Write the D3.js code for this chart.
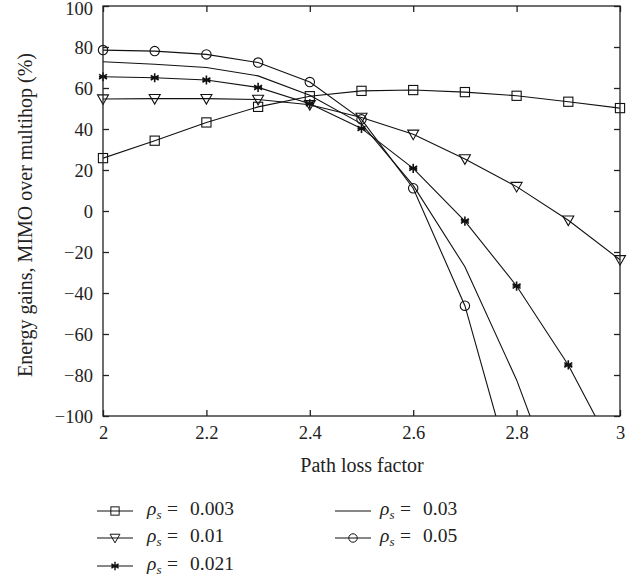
<!DOCTYPE html>
<html>
<head>
<meta charset="utf-8">
<script src="https://cdn.jsdelivr.net/npm/d3@7"></script>
<style>
  body { margin: 0; background: white; }
  svg { font-family: 'Liberation Serif', 'DejaVu Serif', serif; }
  .line { fill: none; stroke: #111; stroke-width: 1.1px; }
  .marker { fill: none; stroke: #111; stroke-width: 1.1px; }
  .axis path, .axis line { stroke: #222; stroke-width: 1.3px; }
</style>
</head>
<body>
<svg id="chart" width="644" height="579"></svg>
<script>
const margin = {top:6, right:24, bottom:163, left:103};

const xValues = [2.0, 2.1, 2.2, 2.3, 2.4, 2.5, 2.6, 2.7, 2.8, 2.9, 3.0];
const xTicks = [2, 2.2, 2.4, 2.6, 2.8, 3];
const yTicks = [-100, -80, -60, -40, -20, 0, 20, 40, 60, 80, 100];

const rhoLabels = ['0.003', '0.01', '0.021', '0.03', '0.05'];
const markerTypes = ['square', 'triangle', 'star', 'none', 'circle'];

const gain003 = [25.8, 34.3, 43.2, 50.8, 56.0, 58.6, 59.0, 58.0, 56.2, 53.3, 50.2];
const gain01  = [54.6, 54.8, 54.8, 54.4, 51.8, 45.6, 37.4, 25.4, 11.9, -4.5, -23.8];
const gain021 = [65.5, 65.0, 63.9, 60.3, 52.3, 40.3, 20.8, -4.9, -36.6, -75.1, -123];
const gain03  = [72.8, 71.6, 70.0, 65.9, 56.5, 42.5, 12.5, -27.2, -82.4, -150, -220];
const gain05  = [78.5, 78.0, 76.4, 72.4, 62.9, 44.7, 11.1, -46.2, -136, -235, -340];

const series = [gain003, gain01, gain021, gain03, gain05];

function chart(){

    let svg = d3.select('#chart');
    let width = +svg.attr('width') - margin.left - margin.right;
    let height = +svg.attr('height') - margin.top - margin.bottom;

    let g = svg.append('g')
      .attr('transform', 'translate('+margin.left+','+margin.top+')');

    // set ranges
    let x = d3.scaleLinear().domain([2, 3]).range([0, width]);
    let y = d3.scaleLinear().domain([-100, 100]).range([height, 0]);

    g.append('clipPath')
      .attr('id', 'clip')
      .append('rect')
      .attr('width', width)
      .attr('height', height);

    // markers
    function drawMarker(sel, type) {
      if (type === 'square') {
        sel.append('rect').attr('class', 'marker')
          .attr('x', -4.6).attr('y', -4.6).attr('width', 9.2).attr('height', 9.2);
      } else if (type === 'circle') {
        sel.append('circle').attr('class', 'marker').attr('r', 4.7);
      } else if (type === 'triangle') {
        sel.append('path').attr('class', 'marker')
          .attr('d', 'M-5.5,-4.2L5.5,-4.2L0,5.4Z');
      } else if (type === 'star') {
        let arms = '';
        for (let k = 0; k < 3; k++) {
          let a = Math.PI / 2 + k * Math.PI / 3;
          let dx = 4.6 * Math.cos(a), dy = 4.6 * Math.sin(a);
          arms += 'M' + (-dx) + ',' + (-dy) + 'L' + dx + ',' + dy;
        }
        arms += 'M-4,0L4,0';
        sel.append('path').attr('class', 'marker')
          .style('stroke-width', '1.6px')
          .attr('d', arms);
      }
    }

    let plot = g.append('g').attr('clip-path', 'url(#clip)');
    let marks = g.append('g');

    let valueLine = d3.line()
      .x(function(d, i) {return x(xValues[i]);})
      .y(function(d) {return y(d);});

    series.forEach(function(s, si) {
      plot.append('path')
        .datum(s)
        .attr('class', 'line')
        .attr('d', valueLine);

      if (markerTypes[si] === 'none') {return;}
      marks.selectAll('.m' + si)
        .data(s.map(function(v, i) {return {x: xValues[i], y: v};})
                .filter(function(d) {return d.y >= -100;}))
        .enter().append('g')
        .attr('class', 'm' + si)
        .attr('transform', function(d) {return 'translate('+x(d.x)+','+y(d.y)+')';})
        .each(function() {drawMarker(d3.select(this), markerTypes[si]);});
    });

    // draw x-axis (bottom with labels, top ticks only)
    g.append('g')
      .attr('class', 'axis axis-x')
      .attr('transform', 'translate(0,' + height + ')')
      .call(d3.axisBottom(x).tickValues(xTicks).tickSize(-6).tickSizeOuter(0)
        .tickPadding(10).tickFormat(d3.format('')));
    g.append('g')
      .attr('class', 'axis')
      .call(d3.axisTop(x).tickValues(xTicks).tickSize(-6).tickSizeOuter(0).tickFormat(''));

    // draw y-axis (left with labels, right ticks only)
    g.append('g')
      .attr('class', 'axis axis-y')
      .call(d3.axisLeft(y).tickValues(yTicks).tickSize(-6).tickSizeOuter(0)
        .tickPadding(10).tickFormat(function(d) {return d < 0 ? '\u2212' + (-d) : d;}));
    g.append('g')
      .attr('class', 'axis')
      .attr('transform', 'translate(' + width + ',0)')
      .call(d3.axisRight(y).tickValues(yTicks).tickSize(-6).tickSizeOuter(0).tickFormat(''));

    svg.selectAll('.axis text')
      .style('font-family', "'Liberation Serif', serif")
      .style('font-size', '18.5px')
      .attr('fill', '#222');
    svg.selectAll('.axis-y text')
      .attr('dy', function(d) {return d === 100 ? '0.46em' : '0.36em';});
    svg.selectAll('.axis path.domain').remove();

    // frame
    g.append('rect')
      .attr('width', width)
      .attr('height', height)
      .attr('fill', 'none')
      .attr('stroke', '#222')
      .attr('stroke-width', 1.3);

    // axis titles
    g.append('text')
      .attr('x', width / 2 + 0.5)
      .attr('y', height + 56)
      .attr('text-anchor', 'middle')
      .style('font-size', '20px')
      .attr('fill', '#222')
      .text('Path loss factor');

    g.append('text')
      .attr('transform', 'translate(-71,' + (height / 2 + 4) + ') rotate(-90)')
      .attr('text-anchor', 'middle')
      .style('font-size', '20px')
      .attr('fill', '#222')
      .text('Energy gains, MIMO over multihop (%)');

    // draw legend
    let legendPos = [[97, 511], [97, 538], [97, 566], [335, 511], [335, 538]];
    let textOffset = [50, 50, 50, 45, 45];
    let legend = svg.append('g').attr('class', 'legend');
    rhoLabels.forEach(function(lab, i) {
      let item = legend.append('g')
        .attr('transform', 'translate(' + legendPos[i][0] + ',' + legendPos[i][1] + ')');
      item.append('line')
        .attr('class', 'line')
        .attr('x1', 0).attr('x2', 36).attr('y1', 0).attr('y2', 0);
      let m = item.append('g').attr('transform', 'translate(18,0) scale(0.9)');
      drawMarker(m, markerTypes[i]);
      let tx = textOffset[i];
      let t = item.append('text')
        .attr('y', 4)
        .style('font-size', '19.5px')
        .attr('fill', '#222');
      t.append('tspan').attr('x', tx).style('font-style', 'italic').text('\u03c1');
      t.append('tspan').style('font-style', 'italic').style('font-size', '13px')
        .attr('dy', 4).text('s');
      t.append('tspan').attr('x', tx + 20).attr('dy', -4).text('=');
      t.append('tspan').attr('x', tx + 43).text(lab);
    });
}

chart();
</script>
</body>
</html>
